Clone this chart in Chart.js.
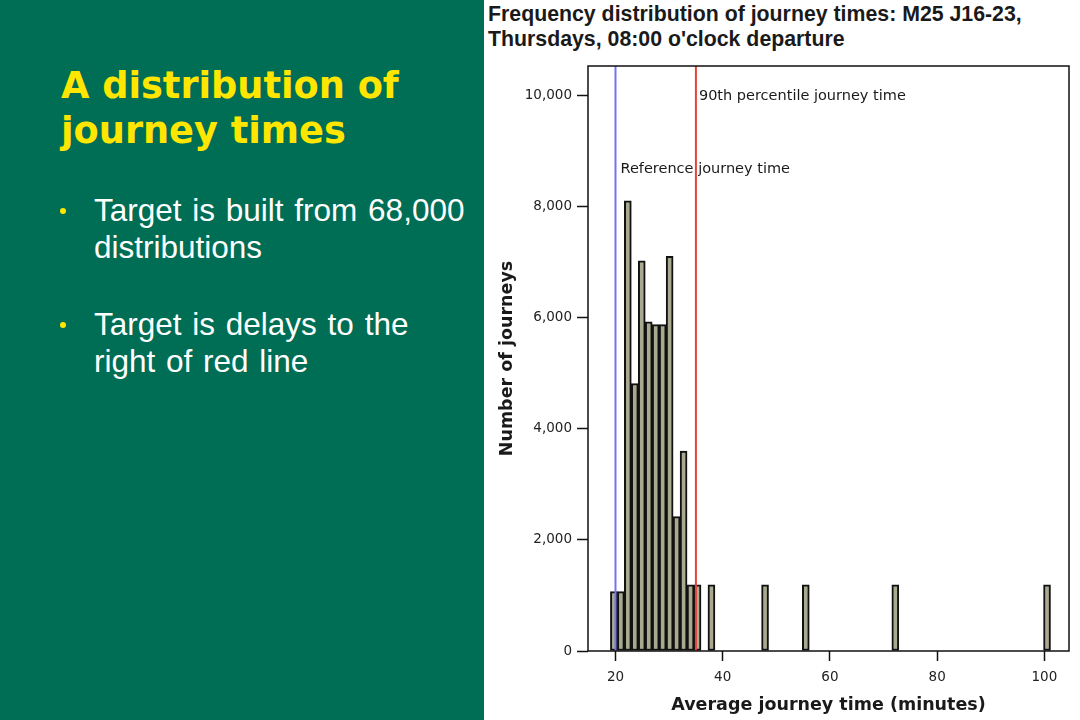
<!DOCTYPE html>
<html>
<head>
<meta charset="utf-8">
<script src="https://cdn.jsdelivr.net/npm/chart.js@4"></script>
<style>
  body { margin: 0; width: 1080px; height: 720px; overflow: hidden; background: #fff; position: relative; }
  .panel { position: absolute; left: 0; top: 0; width: 484px; height: 720px; background: #006e55; }
  .heading { position: absolute; left: 61px; top: 63px; color: #ffe600; font: bold 36.7px "DejaVu Sans", sans-serif; line-height: 45px; }
  .bullet { position: absolute; left: 94px; color: #fff; font: 31.5px "Liberation Sans", Arial, sans-serif; line-height: 37px; word-spacing: 2px; }
  .bullet::before { content: ""; position: absolute; left: -34px; top: 16px; width: 6px; height: 6px; border-radius: 50%; background: #ffe600; }
  .title { position: absolute; left: 488px; top: 2px; font: bold 21.3px "Liberation Sans", Arial, sans-serif; line-height: 25px; color: #1a1a1a; }
  .wrap { position: absolute; left: 483px; top: 60px; width: 597px; height: 660px; }
</style>
</head>
<body>
<div class="panel">
  <div class="heading">A distribution of<br>journey times</div>
  <div class="bullet" style="top:192px">Target is built from 68,000<br>distributions</div>
  <div class="bullet" style="top:306px">Target is delays to the<br>right of red line</div>
</div>
<div class="title">Frequency distribution of journey times: M25 J16-23,<br>Thursdays, 08:00 o'clock departure</div>
<div class="wrap"><canvas id="chart"></canvas></div>
<script>
// centros de cada barra del histograma (minutos)
const binMinutes = [19.7, 21.0, 22.3, 23.6, 24.9, 26.2, 27.5, 28.8, 30.1, 31.4, 32.7, 34.0, 35.3, 37.9, 47.9, 55.5, 72.2, 100.5];
// numero de viajes por barra
const journeys = [1070, 1070, 8110, 4820, 7030, 5930, 5880, 5880, 7110, 2420, 3600, 1190, 1190, 1190, 1190, 1190, 1190, 1190];
const xTicks = [20, 40, 60, 80, 100];
const yTicks = [0, 2000, 4000, 6000, 8000, 10000];
// lineas de referencia
const lineNames = ["Reference journey time", "90th percentile journey time"];
const lineMinutes = [20, 35];
const lineColors = ["#7474f0", "#e8403a"];

Chart.defaults.font.family = "DejaVu Sans";
Chart.defaults.color = "#222";

const histData = binMinutes.map((m, i) => ({ x: m, y: journeys[i] }));

// marco, lineas verticales y sus etiquetas
const refLines = {
  id: "refLines",
  afterDatasetsDraw(chart) {
    const { ctx, chartArea: a, scales: { x, y } } = chart;
    ctx.save();
    ctx.font = "14.5px DejaVu Sans";
    ctx.fillStyle = "#1a1a1a";
    ctx.textBaseline = "middle";
    ctx.fillText(lineNames[0], x.getPixelForValue(lineMinutes[0]) + 5, y.getPixelForValue(8680));
    ctx.fillText(lineNames[1], x.getPixelForValue(lineMinutes[1]) + 3, y.getPixelForValue(10000));
    lineMinutes.forEach((m, i) => {
      const px = x.getPixelForValue(m);
      ctx.strokeStyle = lineColors[i];
      ctx.lineWidth = 2;
      ctx.beginPath();
      ctx.moveTo(px, a.top);
      ctx.lineTo(px, a.bottom);
      ctx.stroke();
    });
    ctx.strokeStyle = "#111";
    ctx.lineWidth = 1.5;
    ctx.strokeRect(a.left, a.top, a.right - a.left, a.bottom - a.top);
    ctx.restore();
  }
};

new Chart(document.getElementById("chart"), {
  type: "bar",
  data: {
    datasets: [{
      data: histData,
      backgroundColor: "#a9a98f",
      borderColor: "#111",
      borderWidth: 2,
      borderSkipped: false,
      barPercentage: 1,
      categoryPercentage: 1
    }]
  },
  options: {
    responsive: true,
    maintainAspectRatio: false,
    animation: false,
    devicePixelRatio: 1,
    layout: { padding: { top: 6, right: 11, left: 0, bottom: 0 } },
    plugins: { legend: { display: false }, tooltip: { enabled: false } },
    scales: {
      x: {
        type: "linear",
        min: 14.87,
        max: 104.6,
        offset: false,
        afterFit: (s) => { s.height = 69; s.paddingLeft = 0; s.paddingRight = 0; },
        afterBuildTicks: (s) => { s.ticks = xTicks.map(v => ({ value: v })); },
        grid: { offset: false, drawOnChartArea: false, drawTicks: true, tickLength: 10, tickColor: "#111", tickWidth: 1.5 },
        border: { display: false },
        ticks: { padding: 8, font: { size: 13.5 }, color: "#222" },
        title: { display: true, text: "Average journey time (minutes)", font: { size: 17.5, weight: "bold" }, color: "#1a1a1a", padding: { top: 0, bottom: 4 } }
      },
      y: {
        min: 0,
        max: 10540,
        afterFit: (s) => { s.width = 105; s.paddingTop = 0; s.paddingBottom = 0; },
        afterBuildTicks: (s) => { s.ticks = yTicks.map(v => ({ value: v })); },
        grid: { drawOnChartArea: false, drawTicks: true, tickLength: 11, tickColor: "#111", tickWidth: 1.5 },
        border: { display: false },
        ticks: { padding: 5, font: { size: 13.5 }, color: "#222", callback: (v) => v.toLocaleString("en-US") },
        title: { display: true, text: "Number of journeys", font: { size: 17.5, weight: "bold" }, color: "#1a1a1a", padding: { top: 14, bottom: 0 } }
      }
    }
  },
  plugins: [refLines]
});
</script>
</body>
</html>
